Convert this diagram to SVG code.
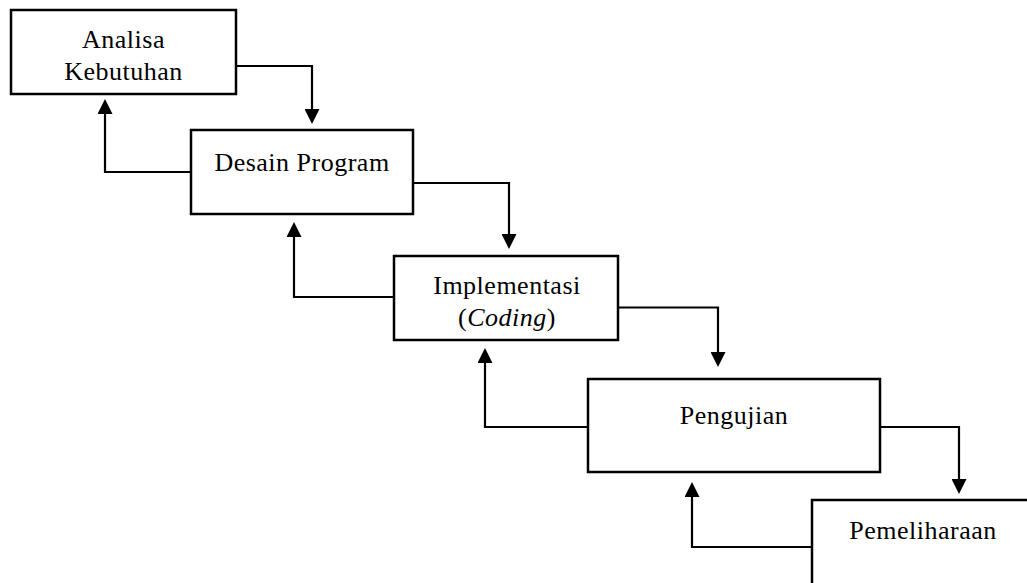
<svg xmlns="http://www.w3.org/2000/svg" width="1027" height="583" viewBox="0 0 1027 583">
<style>
.box{fill:#fff;stroke:#000;stroke-width:2.5}
.lbl{font-family:"Liberation Serif","Times New Roman",serif;font-size:26px;fill:#000;text-anchor:middle;letter-spacing:0.5px}
.con{fill:none;stroke:#000;stroke-width:2.2}
</style>
<defs>
<marker id="ah" viewBox="0 0 15 15" refX="0" refY="7.5" markerWidth="15" markerHeight="15" markerUnits="userSpaceOnUse" orient="auto">
<path d="M0,0 L15,7.5 L0,15 z" fill="#000"/>
</marker>
</defs>
<rect width="1027" height="583" fill="#fff"/>
<g id="connectors">
<path class="con" d="M236,66 H312 V109" marker-end="url(#ah)"/>
<path class="con" d="M191,172 H105 V114" marker-end="url(#ah)"/>
<path class="con" d="M413,183 H509 V234" marker-end="url(#ah)"/>
<path class="con" d="M394,297 H294 V237" marker-end="url(#ah)"/>
<path class="con" d="M618,307.5 H718 V352" marker-end="url(#ah)"/>
<path class="con" d="M588,427 H485 V363" marker-end="url(#ah)"/>
<path class="con" d="M880,427 H959 V479" marker-end="url(#ah)"/>
<path class="con" d="M812,547 H692 V497" marker-end="url(#ah)"/>
</g>
<g id="analisa">
<rect class="box" x="11" y="10" width="225" height="84"/>
<text class="lbl" x="123.5" y="48">Analisa</text>
<text class="lbl" x="123.5" y="80">Kebutuhan</text>
</g>
<g id="desain">
<rect class="box" x="191" y="130" width="222" height="84"/>
<text class="lbl" x="302" y="171">Desain Program</text>
</g>
<g id="implementasi">
<rect class="box" x="394" y="256" width="224" height="84"/>
<text class="lbl" x="507" y="294">Implementasi</text>
<text class="lbl" x="507" y="326">(<tspan font-style="italic">Coding</tspan>)</text>
</g>
<g id="pengujian">
<rect class="box" x="588" y="379" width="292" height="93"/>
<text class="lbl" x="734" y="424">Pengujian</text>
</g>
<g id="pemeliharaan">
<rect class="box" x="812" y="500" width="222" height="95"/>
<text class="lbl" x="923" y="539">Pemeliharaan</text>
</g>
</svg>
